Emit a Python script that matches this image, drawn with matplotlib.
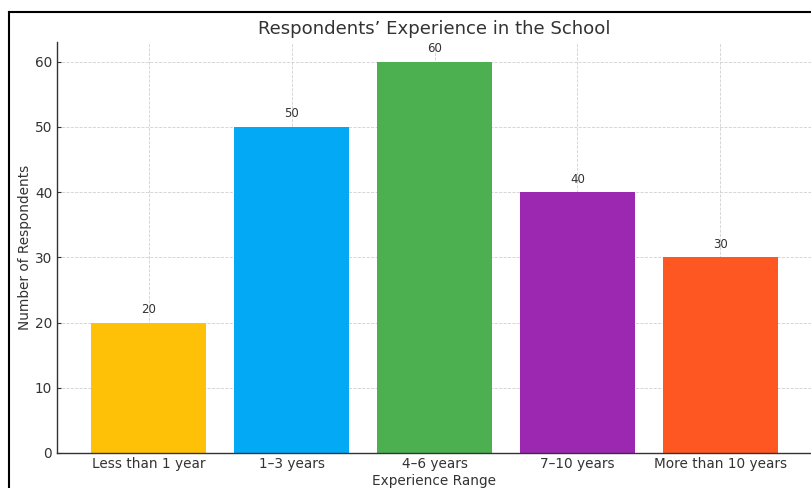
import numpy as np
import matplotlib
matplotlib.use('Agg')
import matplotlib.pyplot as plt
from matplotlib.lines import Line2D

categories = ['Less than 1 year', '1\u20133 years', '4\u20136 years', '7\u201310 years', 'More than 10 years']
respondents = [20, 50, 60, 40, 30]
colors = ['#FFC107', '#03A9F4', '#4CAF50', '#9C27B0', '#FF5722']

W, H = 812, 488
fig = plt.figure(figsize=(W / 100, H / 100), dpi=100)
ax = fig.add_axes([57 / W, (H - 453) / H, (W - 57) / W, (453 - 42) / H])

x = np.arange(len(categories))
bars = ax.bar(x, respondents, color=colors, width=0.8, zorder=2)
for b, v in zip(bars, respondents):
	ax.text(b.get_x() + b.get_width() / 2, v + 1.0, str(v), ha='center', va='bottom',
	 fontsize=8.5, color='#333333')

ax.set_xticks(x)
ax.set_xticklabels(categories, fontsize=9.8, color='#333333')
ax.tick_params(axis='both', direction='in', length=3, color='#333333')
ax.tick_params(axis='x', pad=3)
ax.tick_params(axis='y', labelsize=9.8, labelcolor='#333333')
ax.set_ylim(0, 63)
ax.set_xlim(-0.64, 4.64)
ax.set_yticks([0, 10, 20, 30, 40, 50, 60])
ax.grid(True, linestyle='--', color='#d0d0d0', linewidth=0.6, zorder=0)
ax.set_axisbelow(True)
ax.spines['top'].set_visible(False)
ax.spines['right'].set_visible(False)
for s in ('left', 'bottom'):
	ax.spines[s].set_color('#333333')
	ax.spines[s].set_linewidth(1.0)
ax.set_xlabel('Experience Range', fontsize=9.8, color='#333333', labelpad=2)
ax.set_ylabel('Number of Respondents', fontsize=9.8, color='#333333', labelpad=2)
ax.set_title('Respondents\u2019 Experience in the School', fontsize=13.1, color='#333333', pad=6)

# screenshot frame
fy = (H - 11.5) / H
fx = 9 / W
fig.add_artist(Line2D([fx, fx], [0, fy], color='black', linewidth=1.5, transform=fig.transFigure))
fig.add_artist(Line2D([fx, 1], [fy, fy], color='black', linewidth=1.5, transform=fig.transFigure))

fig.savefig('out.png', dpi=100)
